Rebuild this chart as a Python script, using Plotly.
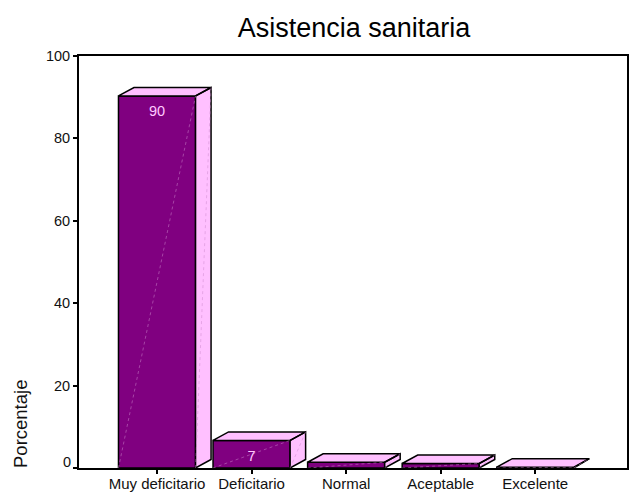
import plotly.graph_objects as go

categories = ["Muy deficitario", "Deficitario", "Normal", "Aceptable", "Excelente"]
values = [90.3, 6.7, 1.4, 1.1, 0.2]
value_labels = ["90", "7", "", "", ""]
y_ticks = [0, 20, 40, 60, 80, 100]
y_tick_labels = ["", "20", "40", "60", "80", "100"]

BAR_W = 0.815
DX = 0.164
DY = 2.06
FRONT = "#800080"
FACE = "#FFC0FF"
FONT = "Liberation Sans, Arial, sans-serif"

xs = list(range(len(categories)))

fig = go.Figure()
fig.add_trace(go.Bar(x=xs, y=values, width=BAR_W,
                     marker=dict(color=FRONT, line=dict(color="black", width=1.5)),
                     hoverinfo="skip"))

poly_x, poly_y, dx_x, dx_y = [], [], [], []
for x, v in zip(xs, values):
    l, r = x - BAR_W / 2, x + BAR_W / 2
    # top face
    poly_x += [l, r, r + DX, l + DX, l, None]
    poly_y += [v, v, v + DY, v + DY, v, None]
    # side face
    poly_x += [r, r + DX, r + DX, r, r, None]
    poly_y += [0, DY, v + DY, v, 0, None]
    # sheen diagonals
    dx_x += [l, r, None, r, r + DX, None]
    dx_y += [0, v, None, 0, v + DY, None]

fig.add_trace(go.Scatter(x=poly_x, y=poly_y, mode="lines", fill="toself", fillcolor=FACE,
                         line=dict(color="black", width=1.5), hoverinfo="skip"))
fig.add_trace(go.Scatter(x=dx_x, y=dx_y, mode="lines",
                         line=dict(color="#CC88CC", width=0.5, dash="dot"), hoverinfo="skip"))
fig.add_trace(go.Scatter(x=xs, y=[v - 4 for v in values], mode="text", text=value_labels,
                         textposition="middle center",
                         textfont=dict(family=FONT, size=14.5, color="#FFC8FF"), hoverinfo="skip"))

W, H = 630, 492
fig.update_layout(
    width=W, height=H,
    autosize=False,
    margin=dict(l=79, r=3, t=56, b=24, autoexpand=False),
    paper_bgcolor="white", plot_bgcolor="white",
    showlegend=False,
    font=dict(family=FONT, color="#111111"),
    title=dict(text="Asistencia sanitaria", x=354 / W, xanchor="center",
               y=1 - 28 / H, yanchor="middle", font=dict(family=FONT, size=27, color="black")),
    xaxis=dict(range=[-0.825, 4.97], tickmode="array", tickvals=xs, ticktext=categories,
               ticks="outside", ticklen=4, tickwidth=1.5, tickcolor="black", automargin=False,
               ticklabelstandoff=-3,
               showline=True, linecolor="black", linewidth=2, mirror=True,
               showgrid=False, zeroline=False, tickfont=dict(family=FONT, size=15)),
    yaxis=dict(range=[0, 100], tickmode="array", tickvals=y_ticks, ticktext=y_tick_labels,
               ticks="outside", ticklen=4, tickwidth=1.5, tickcolor="black", automargin=False,
               showline=True, linecolor="black", linewidth=2, mirror=True,
               showgrid=False, zeroline=False, tickfont=dict(family=FONT, size=14.5)),
    annotations=[
        dict(text="0", xref="paper", yref="y", x=0, y=0, xanchor="right", yanchor="middle",
             xshift=-6, yshift=6, showarrow=False, font=dict(family=FONT, size=14.5)),
        dict(text="Porcentaje", xref="paper", yref="paper", x=(20 - 79) / 548, y=(468 - 424) / 412,
             xanchor="center", yanchor="middle", textangle=-90, showarrow=False,
             font=dict(family=FONT, size=18.5)),
    ],
)
fig.write_html("out.html", config={"displayModeBar": False},
               post_script="document.body.style.margin='0';document.documentElement.style.overflow='hidden';")
